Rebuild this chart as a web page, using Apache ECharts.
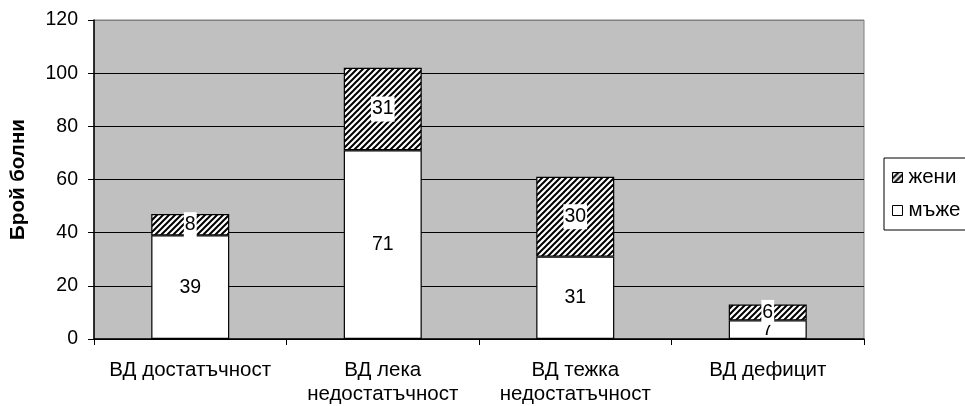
<!DOCTYPE html>
<html>
<head>
<meta charset="utf-8">
<script src="https://cdn.jsdelivr.net/npm/echarts@6/dist/echarts.min.js"></script>
<style>
  html, body { margin: 0; padding: 0; background: #fff; }
  #chart { width: 965px; height: 406px; }
</style>
</head>
<body>
<div id="chart"></div>
<script>
// Categories (x axis) and stacked values per group
const categories = ['ВД достатъчност', 'ВД лека\nнедостатъчност', 'ВД тежка\nнедостатъчност', 'ВД дефицит'];
const men = [39, 71, 31, 7];
const women = [8, 31, 30, 6];
const yTicks = [0, 20, 40, 60, 80, 100, 120];

// Diagonal hatch tile for the "жени" series
function hatchTile() {
  const s = 6;
  const c = document.createElement('canvas');
  c.width = s; c.height = s;
  const g = c.getContext('2d');
  g.fillStyle = '#fff';
  g.fillRect(0, 0, s, s);
  g.strokeStyle = '#000';
  g.lineWidth = 2;
  g.beginPath();
  g.moveTo(-1, s + 1); g.lineTo(s + 1, -1);
  g.moveTo(-1 - s, s + 1); g.lineTo(1, -1);
  g.moveTo(s - 1, s + 1); g.lineTo(2 * s + 1, -1);
  g.stroke();
  return c;
}

const font = 'Liberation Sans, Arial, sans-serif';
const chart = echarts.init(document.getElementById('chart'), null, { renderer: 'canvas' });

chart.setOption({
  animation: false,
  textStyle: { fontFamily: font },
  grid: {
    left: 94, right: 101, top: 20, bottom: 67,
    show: true, backgroundColor: '#c0c0c0', borderColor: '#808080', borderWidth: 1
  },
  legend: {
    orient: 'vertical',
    left: 884, top: 158,
    padding: [9, 40, 9, 8],
    itemGap: 12,
    itemWidth: 10, itemHeight: 10,
    borderColor: '#000', borderWidth: 1,
    backgroundColor: '#fff',
    data: ['жени', 'мъже'],
    textStyle: { fontFamily: font, fontSize: 20.5, color: '#000', padding: [0, 0, 0, 1] },
    itemStyle: { borderColor: '#000', borderWidth: 1 },
    icon: 'rect'
  },
  xAxis: {
    type: 'category',
    data: categories,
    axisLine: { lineStyle: { color: '#000', width: 1.5 } },
    axisTick: { show: true, length: 6, lineStyle: { color: '#000' } },
    axisLabel: { color: '#000', fontSize: 20.5, fontFamily: font, margin: 19, lineHeight: 24, interval: 0 },
    splitLine: { show: false }
  },
  yAxis: {
    type: 'value',
    min: yTicks[0], max: yTicks[yTicks.length - 1], interval: 20,
    name: 'Брой болни',
    nameLocation: 'middle',
    nameGap: 65,
    nameTextStyle: { fontFamily: font, fontSize: 20.5, fontWeight: 'bold', color: '#000' },
    axisLine: { show: true, lineStyle: { color: '#000', width: 1.5 } },
    axisTick: { show: true, length: 6, lineStyle: { color: '#000' } },
    axisLabel: { color: '#000', fontSize: 19.5, fontFamily: font, margin: 16 },
    splitLine: { show: true, lineStyle: { color: ['#000', '#000', '#000', '#000', '#000', '#000', '#808080'], width: 1.2 } }
  },
  series: [
    {
      name: 'мъже',
      type: 'bar',
      stack: 'total',
      barWidth: 78,
      z: 2,
      data: men,
      itemStyle: { color: '#fff', borderColor: '#000', borderWidth: 1.2 },
      label: { show: true, position: 'inside', color: '#000', fontSize: 19.5, fontFamily: font }
    },
    {
      name: 'жени',
      type: 'bar',
      stack: 'total',
      barWidth: 78,
      z: 3,
      data: women,
      itemStyle: { color: { image: hatchTile(), repeat: 'repeat' }, borderColor: '#000', borderWidth: 1.2 },
      label: {
        show: true, position: 'inside', color: '#000', fontSize: 19.5, fontFamily: font,
        backgroundColor: '#fff', padding: [3, 1, 2, 1]
      }
    }
  ]
});
</script>
</body>
</html>
